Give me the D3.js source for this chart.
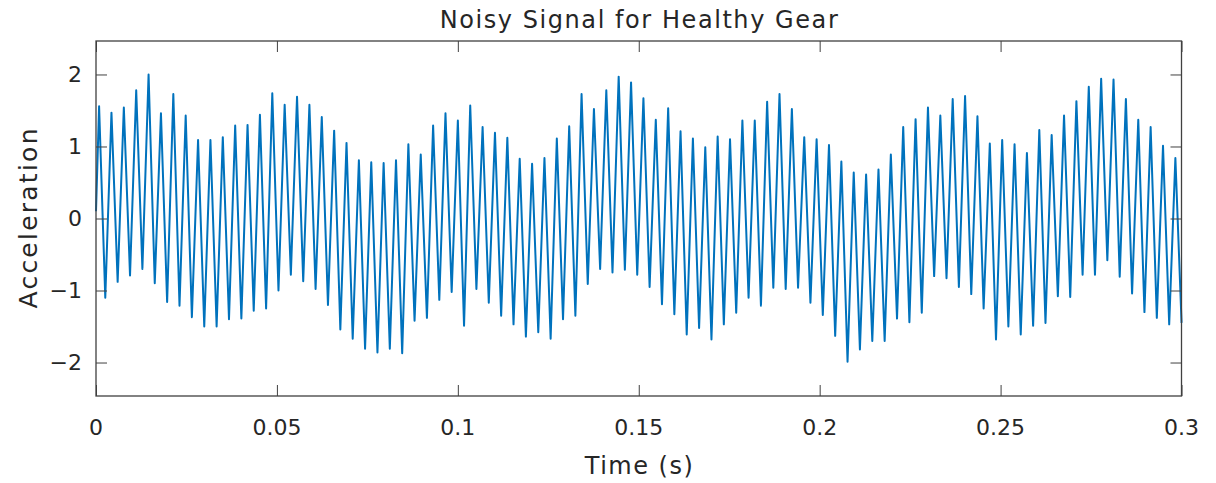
<!DOCTYPE html>
<html><head><meta charset="utf-8">
<script src="https://cdn.jsdelivr.net/npm/d3@7"></script>
<style>
body{margin:0;background:#fff}
svg{display:block}
text{font-family:"DejaVu Sans","Noto Sans",sans-serif;fill:#262626}
</style>
</head><body>
<svg id="chart" width="1216" height="483"></svg>
<script>
// ---- data ----
const xTicks = [0, 0.05, 0.1, 0.15, 0.2, 0.25, 0.3];
const xTickLabels = ["0", "0.05", "0.1", "0.15", "0.2", "0.25", "0.3"];
const yTicks = [-2, -1, 0, 1, 2];
const yTickLabels = ["\u22122", "\u22121", "0", "1", "2"];
const startValue = 0.1;          // value at t = 0
const meshPeriod = 0.003419;     // one fast oscillation (s), measured
const firstPeakTime = 0.000855;  // time of first crest (s)
// crest value of each fast oscillation, left to right
const peakValues = [
  1.56, 1.47, 1.54, 1.78, 2.00, 1.46, 1.73, 1.43, 1.09, 1.09,
  1.13, 1.29, 1.30, 1.44, 1.74, 1.58, 1.69, 1.58, 1.41, 1.22,
  1.05, 0.81, 0.78, 0.77, 0.81, 1.03, 0.89, 1.29, 1.46, 1.36,
  1.57, 1.27, 1.19, 1.12, 0.83, 0.76, 0.84, 1.11, 1.28, 1.73,
  1.52, 1.78, 1.97, 1.89, 1.67, 1.37, 1.53, 1.21, 1.11, 0.99,
  1.14, 1.10, 1.36, 1.36, 1.62, 1.73, 1.52, 1.13, 1.10, 1.02,
  0.79, 0.64, 0.61, 0.68, 0.89, 1.27, 1.38, 1.54, 1.43, 1.66,
  1.70, 1.42, 1.04, 1.09, 1.03, 0.91, 1.23, 1.16, 1.43, 1.63,
  1.83, 1.94, 1.93, 1.66, 1.37, 1.27, 1.01, 0.84
];
// trough value following each crest
const troughValues = [
  -1.10, -0.88, -0.79, -0.70, -0.90, -1.16, -1.21, -1.37, -1.50, -1.50,
  -1.40, -1.39, -1.28, -1.25, -1.00, -0.78, -0.87, -0.98, -1.20, -1.54,
  -1.67, -1.81, -1.86, -1.81, -1.87, -1.42, -1.38, -1.13, -1.02, -1.49,
  -0.98, -1.17, -1.35, -1.47, -1.64, -1.58, -1.67, -1.40, -1.35, -0.91,
  -0.70, -0.75, -0.71, -0.78, -0.95, -1.19, -1.33, -1.61, -1.52, -1.68,
  -1.47, -1.31, -1.10, -1.21, -0.96, -0.98, -0.96, -1.17, -1.34, -1.63,
  -1.99, -1.82, -1.70, -1.70, -1.39, -1.44, -1.31, -0.80, -0.83, -0.95,
  -1.05, -1.25, -1.68, -1.50, -1.61, -1.49, -1.45, -1.08, -1.09, -0.78,
  -0.78, -0.58, -0.81, -1.04, -1.30, -1.38, -1.47, -1.45
];

// ---- build the series ----
const series = [[0, startValue]];
peakValues.forEach((p, k) => {
  series.push([firstPeakTime + k * meshPeriod, p]);
  series.push([firstPeakTime + (k + 0.5) * meshPeriod, troughValues[k]]);
});

// ---- layout ----
const L = 96, R = 1181.5, T = 41, B = 396;
const svg = d3.select("#chart");
const x = d3.scaleLinear().domain([0, 0.3]).range([L, R]);
const y = d3.scaleLinear().domain([-2.465, 2.465]).range([B, T]);
const tick = 11;

svg.append("rect").attr("width", 1216).attr("height", 483).attr("fill", "#fff");

// series
svg.append("path")
  .datum(series)
  .attr("fill", "none")
  .attr("stroke", "#0072BD")
  .attr("stroke-width", 2.0)
  .attr("stroke-linejoin", "round")
  .attr("d", d3.line().x(d => x(d[0])).y(d => y(d[1])));

// axes (ticks inside, mirrored)
function styleAxis(g) {
  g.select(".domain").remove();
  g.selectAll(".tick line").attr("stroke", "#404040").attr("stroke-width", 1);
  g.selectAll(".tick text").remove();
}
svg.append("g").attr("transform", `translate(0,${B})`)
  .call(d3.axisBottom(x).tickValues(xTicks).tickSize(-tick)).call(styleAxis);
svg.append("g").attr("transform", `translate(0,${T})`)
  .call(d3.axisTop(x).tickValues(xTicks).tickSize(-tick)).call(styleAxis);
svg.append("g").attr("transform", `translate(${L},0)`)
  .call(d3.axisLeft(y).tickValues(yTicks).tickSize(-tick)).call(styleAxis);
svg.append("g").attr("transform", `translate(${R},0)`)
  .call(d3.axisRight(y).tickValues(yTicks).tickSize(-tick)).call(styleAxis);

svg.append("rect")
  .attr("x", L).attr("y", T).attr("width", R - L).attr("height", B - T)
  .attr("fill", "none").attr("stroke", "#404040").attr("stroke-width", 1.3);

// tick labels
svg.append("g").selectAll("text").data(xTicks).join("text")
  .attr("x", d => x(d)).attr("y", 435)
  .attr("text-anchor", "middle").attr("font-size", 22)
  .text((d, i) => xTickLabels[i]);
svg.append("g").selectAll("text").data(yTicks).join("text")
  .attr("x", 82).attr("y", d => y(d)).attr("dy", "0.36em")
  .attr("text-anchor", "end").attr("font-size", 22)
  .text((d, i) => yTickLabels[i]);

// labels and title
svg.append("text").attr("x", (L + R) / 2).attr("y", 474)
  .attr("text-anchor", "middle").attr("font-size", 24)
  .attr("textLength", 108).attr("lengthAdjust", "spacing").text("Time (s)");
svg.append("text")
  .attr("transform", `translate(37,${(T + B) / 2}) rotate(-90)`)
  .attr("text-anchor", "middle").attr("font-size", 25)
  .attr("textLength", 180).attr("lengthAdjust", "spacing").text("Acceleration");
svg.append("text").attr("x", (L + R) / 2).attr("y", 28)
  .attr("text-anchor", "middle").attr("font-size", 24)
  .attr("textLength", 398).attr("lengthAdjust", "spacing").text("Noisy Signal for Healthy Gear");
</script>
</body></html>
